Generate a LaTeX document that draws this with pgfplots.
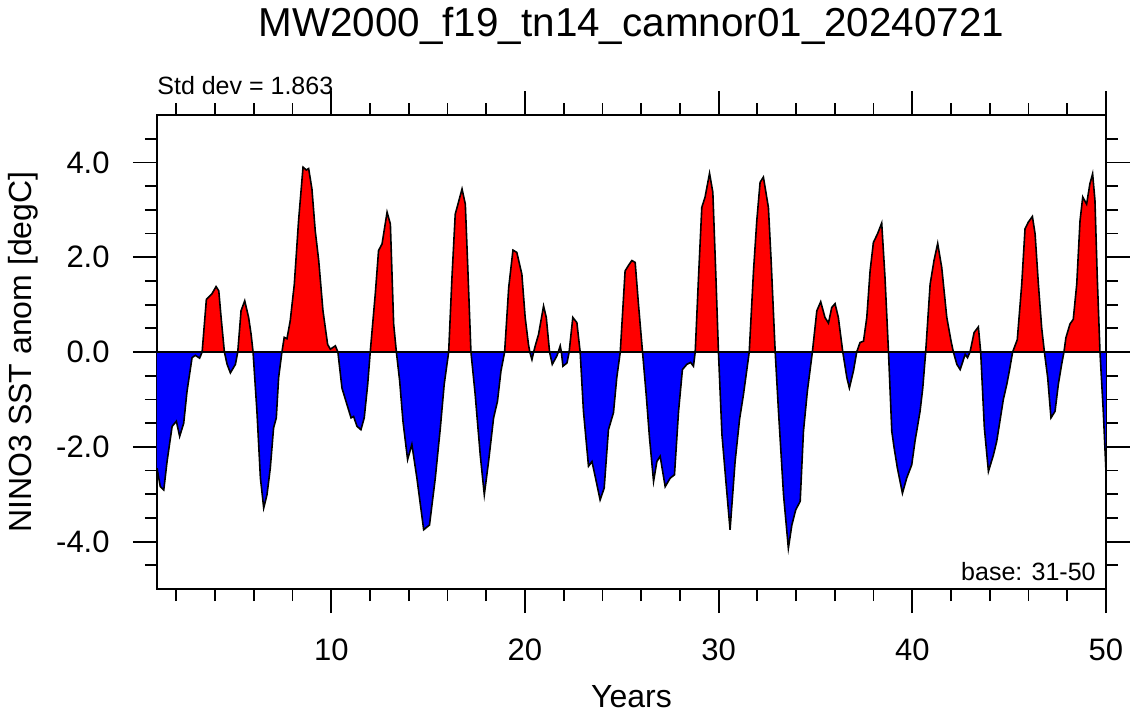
\documentclass[border=0pt]{standalone}
\usepackage{fontspec}
\setmainfont{Liberation Sans}
\usepackage{pgfplots}
\usepackage{pgfplotstable}
\pgfplotsset{compat=1.18}

% Nino3 SST anomaly, time in years, anomaly in degC
\pgfplotstableread{
t v
1.00 -2.45
1.17 -2.84
1.35 -2.91
1.52 -2.31
1.78 -1.57
2.00 -1.46
2.17 -1.78
2.38 -1.50
2.55 -0.83
2.81 -0.12
2.98 -0.07
3.20 -0.13
3.33 0.00
3.55 1.11
3.67 1.16
3.84 1.23
4.05 1.38
4.19 1.29
4.31 0.73
4.48 0.00
4.62 -0.26
4.79 -0.44
5.05 -0.26
5.17 0.00
5.34 0.87
5.53 1.08
5.73 0.73
5.86 0.37
5.96 0.00
6.16 -1.25
6.34 -2.66
6.51 -3.29
6.68 -3.01
6.85 -2.45
7.02 -1.60
7.16 -1.39
7.28 -0.54
7.45 0.00
7.57 0.31
7.71 0.28
7.88 0.66
8.09 1.43
8.31 2.77
8.54 3.90
8.71 3.84
8.83 3.87
9.00 3.44
9.17 2.56
9.35 1.93
9.57 0.87
9.81 0.16
9.95 0.06
10.21 0.13
10.34 0.00
10.55 -0.76
10.81 -1.11
11.02 -1.39
11.15 -1.36
11.33 -1.57
11.53 -1.64
11.70 -1.39
11.88 -0.68
12.01 0.00
12.27 1.22
12.44 2.14
12.62 2.28
12.88 2.95
13.05 2.70
13.22 0.59
13.36 0.00
13.53 -0.61
13.70 -1.46
13.94 -2.27
14.16 -1.95
14.42 -2.66
14.77 -3.75
15.07 -3.65
15.37 -2.66
15.63 -1.60
15.83 -0.68
16.06 0.00
16.23 1.57
16.40 2.91
16.54 3.12
16.75 3.44
16.92 3.12
17.04 1.86
17.21 0.00
17.43 -0.90
17.69 -2.17
17.90 -3.01
18.12 -2.31
18.38 -1.39
18.58 -1.04
18.76 -0.40
18.95 0.00
19.16 1.36
19.38 2.15
19.58 2.10
19.84 1.64
20.01 0.73
20.18 0.16
20.25 0.00
20.36 -0.16
20.45 0.00
20.53 0.13
20.70 0.37
20.96 0.97
21.10 0.73
21.27 0.00
21.41 -0.26
21.65 -0.08
21.72 0.00
21.82 0.13
21.88 0.00
21.96 -0.30
22.17 -0.23
22.28 0.00
22.47 0.73
22.68 0.62
22.85 0.00
23.02 -1.25
23.28 -2.41
23.46 -2.31
23.68 -2.73
23.88 -3.12
24.09 -2.87
24.31 -1.64
24.57 -1.28
24.74 -0.54
24.92 0.00
25.17 1.71
25.35 1.83
25.52 1.93
25.69 1.89
25.86 1.01
26.07 0.00
26.26 -0.90
26.43 -1.81
26.64 -2.73
26.81 -2.31
26.98 -2.20
27.24 -2.84
27.50 -2.66
27.72 -2.59
27.93 -1.25
28.13 -0.37
28.36 -0.26
28.55 -0.22
28.70 -0.30
28.79 0.00
28.96 1.57
29.13 3.05
29.30 3.27
29.53 3.77
29.70 3.37
29.86 1.57
29.99 0.00
30.17 -1.74
30.39 -2.80
30.59 -3.75
30.85 -2.31
31.08 -1.42
31.28 -0.90
31.58 0.00
31.80 1.71
31.97 2.77
32.14 3.58
32.31 3.69
32.57 3.05
32.71 1.93
32.92 0.00
33.09 -1.25
33.35 -3.01
33.60 -4.14
33.78 -3.65
33.98 -3.33
34.21 -3.15
34.38 -1.67
34.58 -0.83
34.84 0.00
35.07 0.87
35.27 1.06
35.49 0.73
35.67 0.61
35.84 0.94
36.01 1.02
36.18 0.73
36.41 0.00
36.62 -0.54
36.75 -0.76
36.96 -0.40
37.13 0.00
37.30 0.20
37.48 0.23
37.65 0.73
37.82 1.71
37.99 2.31
38.20 2.49
38.42 2.72
38.59 1.57
38.77 0.00
38.94 -1.67
39.06 -2.02
39.23 -2.45
39.49 -2.98
39.71 -2.66
39.97 -2.38
40.14 -1.88
40.40 -1.25
40.54 -0.76
40.69 0.00
40.92 1.43
41.12 1.93
41.31 2.29
41.52 1.78
41.78 0.73
42.00 0.23
42.12 0.00
42.30 -0.26
42.47 -0.37
42.73 -0.05
42.85 -0.12
42.98 0.00
43.19 0.41
43.41 0.53
43.53 0.00
43.72 -1.60
43.93 -2.52
44.19 -2.17
44.36 -1.88
44.70 -1.00
44.88 -0.68
45.01 -0.40
45.18 0.00
45.42 0.26
45.65 1.43
45.82 2.60
45.99 2.74
46.20 2.86
46.34 2.49
46.51 1.43
46.68 0.51
46.82 0.00
46.99 -0.54
47.16 -1.39
47.37 -1.25
47.54 -0.68
47.71 -0.26
47.83 0.00
47.93 0.30
48.14 0.59
48.31 0.69
48.49 1.43
48.66 2.77
48.80 3.27
49.00 3.12
49.17 3.55
49.31 3.76
49.43 3.20
49.55 1.57
49.69 0.00
49.86 -1.25
50.00 -2.52
}\ninodata

\begin{document}
\begin{tikzpicture}
\useasboundingbox (-78.5pt,-62.5pt) rectangle (490pt,294.5pt);
\begin{axis}[
  at={(0,0)}, anchor=south west,
  scale only axis,
  width=474.5pt, height=237pt,
  xmin=1, xmax=50, ymin=-5, ymax=5,
  axis line style={line width=1.2pt},
  tick align=outside,
  xtick pos=both, ytick pos=both,
  xticklabel pos=lower, yticklabel pos=left,
  major tick length=12pt, minor tick length=6pt,
  every tick/.style={black, line width=0.9pt},
  xtick={10,20,30,40,50},
  minor xtick={2,4,6,8,12,14,16,18,22,24,26,28,32,34,36,38,42,44,46,48},
  ytick={-4,-2,0,2,4},
  yticklabels={-4.0,-2.0,0.0,2.0,4.0},
  minor ytick={-4.5,-3.5,-3,-2.5,-1.5,-1,-0.5,0.5,1,1.5,2.5,3,3.5,4.5},
  /pgf/number format/assume math mode=true,
  tick label style={font=\fontsize{15.5}{18}\selectfont},
  xticklabel style={anchor=base, yshift=-23.5pt},
  yticklabel style={anchor=east, inner sep=0pt, xshift=-11.5pt},
  xlabel={Years},
  xlabel style={at={(axis description cs:0.5,0)}, anchor=base, yshift=-59pt,
    font=\fontsize{16}{19}\selectfont},
  ylabel={NINO3 SST anom [degC]},
  ylabel style={at={(axis description cs:-0.1319,0.5)}, anchor=base,
    font=\fontsize{16}{19}\selectfont},
  title={MW2000\_f19\_tn14\_camnor01\_20240721},
  title style={at={(axis description cs:0.5,1)}, anchor=base, yshift=33.3pt,
    font=\fontsize{20.2}{24}\selectfont},
  clip mode=individual,
]
  % warm and cold anomalies
  \addplot[draw=none, fill=red] table[x=t, y expr={max(\thisrow{v},0)}] {\ninodata} \closedcycle;
  \addplot[draw=none, fill=blue] table[x=t, y expr={min(\thisrow{v},0)}] {\ninodata} \closedcycle;
  % zero reference line
  \addplot[black, line width=0.8pt] coordinates {(1,0) (50,0)};
  % anomaly curve
  \addplot[black, line width=0.8pt] table[x=t, y=v] {\ninodata};

  \node[anchor=base west, inner sep=0pt, font=\fontsize{12.5}{15}\selectfont]
    at (rel axis cs:0,1) [yshift=10.5pt] {Std dev = 1.863};
  \node[anchor=base east, inner sep=0pt, font=\fontsize{12.5}{15}\selectfont]
    at (rel axis cs:1,0) [xshift=-5pt, yshift=4.5pt] {base: 31-50};
\end{axis}
\end{tikzpicture}
\end{document}
